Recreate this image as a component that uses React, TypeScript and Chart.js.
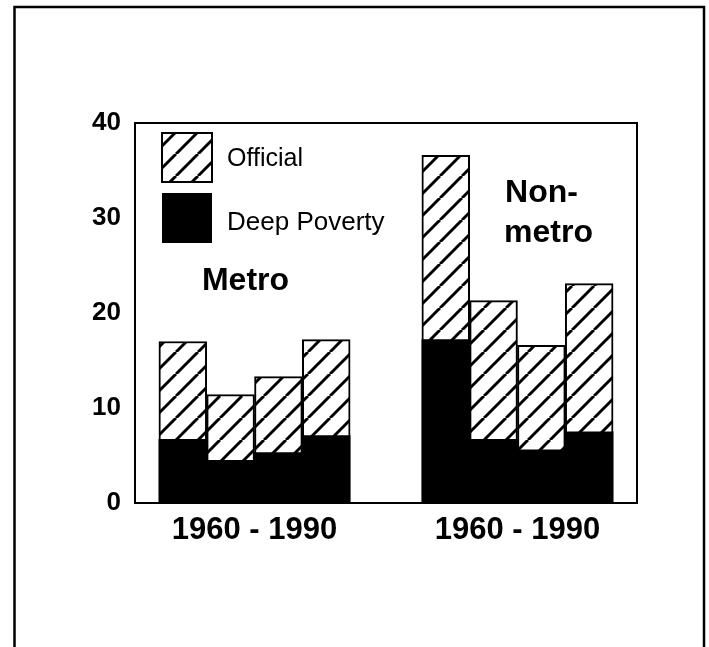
import React, { useEffect, useRef } from "react";
import { Chart, registerables } from "chart.js";

Chart.register(...registerables);

// ---- data ----
const periods = ["1960", "1970", "1980", "1990"];
const groups = ["Metro", "Non-metro"];
const metroOfficial = [17.0, 11.4, 13.3, 17.2];
const metroDeep = [6.7, 4.5, 5.3, 7.1];
const nonmetroOfficial = [36.6, 21.3, 16.6, 23.1];
const nonmetroDeep = [17.2, 6.7, 5.6, 7.5];
const xTickLabel = "1960 - 1990";
const legendLabels = ["Official", "Deep Poverty"];
const yTicks = [0, 10, 20, 30, 40];

const FONT = "'Liberation Sans', Arial, Helvetica, sans-serif";

function makeHatch(): CanvasPattern | string {
  const s = 22;
  const c = document.createElement("canvas");
  c.width = s;
  c.height = s;
  const g = c.getContext("2d");
  if (!g) return "#fff";
  g.fillStyle = "#fff";
  g.fillRect(0, 0, s, s);
  g.strokeStyle = "#000";
  g.lineWidth = 3;
  for (const k of [-1, 0, 1]) {
    g.beginPath();
    g.moveTo(k * s, s);
    g.lineTo(k * s + s, 0);
    g.stroke();
  }
  const p = g.createPattern(c, "repeat");
  return p || "#fff";
}

export default function App() {
  const ref = useRef<HTMLCanvasElement | null>(null);

  useEffect(() => {
    document.body.style.margin = "0";
    const canvas = ref.current;
    if (!canvas) return;
    const hatch = makeHatch();

    // group offsets on the linear x scale (bar units)
    const groupStart = [1, 6.5];
    const toPoints = (vals: number[], gi: number) =>
      vals.map((v, i) => ({ x: groupStart[gi] + i, y: v, p: periods[i] }));

    const officialData = [...toPoints(metroOfficial, 0), ...toPoints(nonmetroOfficial, 1)];
    const deepData = [...toPoints(metroDeep, 0), ...toPoints(nonmetroDeep, 1)];
    const groupCenters = groupStart.map((s) => s + (periods.length - 1) / 2);

    const framePlugin = {
      id: "frameAndLabels",
      beforeDraw(chart: any) {
        const ctx = chart.ctx;
        ctx.save();
        ctx.fillStyle = "#fff";
        ctx.fillRect(0, 0, chart.width, chart.height);
        // outer frame (left, top, right)
        ctx.strokeStyle = "#000";
        ctx.lineWidth = 2.5;
        ctx.beginPath();
        ctx.moveTo(14.5, chart.height + 2);
        ctx.lineTo(14.5, 7);
        ctx.lineTo(704, 7);
        ctx.lineTo(704, chart.height + 2);
        ctx.stroke();
        ctx.restore();
      },
      afterDraw(chart: any) {
        const ctx = chart.ctx;
        const a = chart.chartArea;
        const xs = chart.scales.x;
        const ys = chart.scales.y;
        ctx.save();
        // plot frame
        ctx.strokeStyle = "#000";
        ctx.lineWidth = 2;
        ctx.strokeRect(a.left, a.top, a.right - a.left, a.bottom - a.top);

        // legend
        const lx = a.left + 27;
        const ly = a.top + 10;
        const bw = 50;
        const bh = 49;
        ctx.fillStyle = hatch as any;
        ctx.fillRect(lx, ly, bw, bh);
        ctx.lineWidth = 2;
        ctx.strokeRect(lx, ly, bw, bh);
        ctx.fillStyle = "#000";
        ctx.fillRect(lx, ly + 60, bw, 50);
        ctx.font = `25px ${FONT}`;
        ctx.textBaseline = "middle";
        ctx.textAlign = "left";
        ctx.fillText(legendLabels[0], lx + 65, ly + bh / 2 + 2);
        ctx.font = `26px ${FONT}`;
        ctx.fillText(legendLabels[1], lx + 65, ly + 60 + 25 + 5);

        // group labels
        ctx.font = `bold 32px ${FONT}`;
        ctx.textBaseline = "alphabetic";
        ctx.fillText(groups[0], xs.getPixelForValue(1.4), ys.getPixelForValue(22.4));
        const [g1, g2] = groups[1].split("-");
        ctx.fillText(g1 + "-", xs.getPixelForValue(7.74), ys.getPixelForValue(31.7));
        ctx.fillText(g2, xs.getPixelForValue(7.72), ys.getPixelForValue(27.5));
        ctx.restore();
      },
    };

    const chart = new Chart(canvas, {
      type: "bar",
      data: {
        datasets: [
          {
            label: legendLabels[0],
            data: officialData as any,
            backgroundColor: hatch as any,
            borderColor: "#000",
            borderWidth: 2,
            borderSkipped: false,
            order: 2,
            grouped: false,
            barPercentage: 1,
            categoryPercentage: 1,
          },
          {
            label: legendLabels[1],
            data: deepData as any,
            backgroundColor: "#000",
            borderWidth: 0,
            order: 1,
            grouped: false,
            barPercentage: 1,
            categoryPercentage: 1,
          },
        ],
      },
      options: {
        animation: false,
        responsive: false,
        maintainAspectRatio: false,
        layout: { padding: { left: 0, top: 123, right: 72, bottom: 0 } },
        plugins: {
          legend: { display: false },
          tooltip: { enabled: false },
        },
        scales: {
          x: {
            type: "linear",
            min: 0,
            max: 10.5,
            offset: false,
            bounds: "ticks",
            grid: { display: false, drawTicks: false, offset: false },
            border: { display: false },
            afterBuildTicks: (scale: any) => {
              scale.ticks = groupCenters.map((v) => ({ value: v }));
            },
            afterFit: (scale: any) => {
              scale.height = 144;
            },
            ticks: {
              autoSkip: false,
              maxRotation: 0,
              padding: 9,
              color: "#000",
              font: { family: FONT, size: 31, weight: "bold" },
              callback: () => xTickLabel,
            },
          },
          y: {
            min: 0,
            max: 40,
            grid: { display: false, drawTicks: false },
            border: { display: false },
            afterBuildTicks: (scale: any) => {
              scale.ticks = yTicks.map((v) => ({ value: v }));
            },
            afterFit: (scale: any) => {
              scale.width = 135;
            },
            ticks: {
              padding: 14,
              color: "#000",
              font: { family: FONT, size: 26, weight: "bold" },
            },
          },
        },
      },
      plugins: [framePlugin],
    });

    return () => chart.destroy();
  }, []);

  return (
    <div style={{ width: 709, height: 647 }}>
      <canvas ref={ref} width={709} height={647} style={{ display: "block", width: 709, height: 647 }} />
    </div>
  );
}
